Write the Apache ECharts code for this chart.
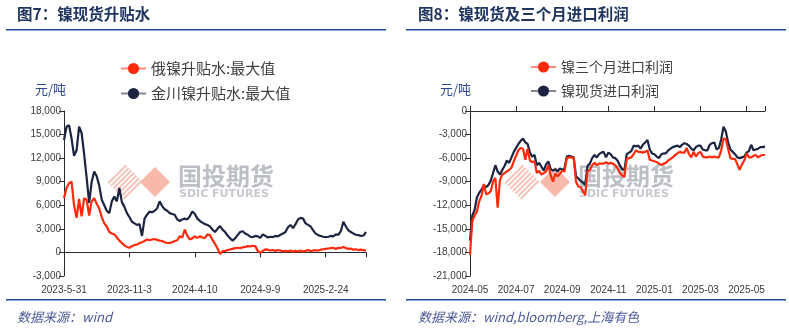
<!DOCTYPE html>
<html>
<head>
<meta charset="utf-8">
<script src="https://cdn.jsdelivr.net/npm/echarts@6/dist/echarts.min.js"></script>
<style>
html,body{margin:0;padding:0;background:#fff;}
#chart{width:789px;height:330px;}
</style>
</head>
<body>
<div id="chart"></div>
<script>
// ---------- data ----------
const leftTickLabels = ['2023-5-31', '2023-11-3', '2024-4-10', '2024-9-9', '2025-2-24'];
const leftStep = 26;
const russiaNiPremium = [
  6900,8200,8800,9000,6000,4400,6800,4600,6900,6700,
  4700,6500,6900,6200,5600,4500,3700,3300,2600,2400,
  2300,1900,1500,1200,900,700,600,800,950,1000,
  1200,1300,1450,1650,1550,1650,1700,1600,1500,1450,
  1300,1200,1200,1300,1450,1550,2050,1900,2900,2100,
  1650,1800,2050,1850,2050,1900,1850,2300,2200,1600,
  1100,500,-200,150,200,300,380,450,550,600,
  550,650,700,800,750,850,800,200,-50,200,
  380,350,250,300,200,300,250,150,200,150,
  250,100,200,150,250,100,200,300,150,250,
  300,250,350,400,450,500,550,600,450,600,
  550,700,550,450,500,350,400,300,350,300,250
];
const jinchuanNiPremium = [
  14300,16000,16200,14500,12300,13000,16000,15200,12500,9500,
  6300,9000,10300,9700,8500,6700,6000,5300,5000,6500,
  7100,6500,8200,6400,5800,5000,4500,3900,3700,3500,
  3600,2100,4300,4800,5200,5100,5300,5600,6500,5900,
  5500,5300,5000,4900,4800,4200,4000,4200,4300,4200,
  4600,5200,4900,4300,4000,3800,3600,3500,3300,2900,
  2600,3000,3350,2900,2600,2150,1800,1500,1800,2200,
  2600,2700,2400,2250,2000,1950,2100,2050,1850,2300,
  2100,1900,2000,1950,2100,2050,2250,2400,2600,3200,
  3500,3100,3600,4200,4400,4300,3700,3500,3300,2800,
  2400,2200,2100,2000,1950,2000,2100,2050,2300,2250,
  2700,3900,3300,2800,2600,2400,2250,2200,2100,2150,2600
];

const rightTickLabels = ['2024-05', '2024-07', '2024-09', '2024-11', '2025-01', '2025-03', '2025-05'];
const rightStep = 20;
const ni3mImportProfit = [
  -18300,-14000,-13300,-12800,-11500,-10800,-9300,-10600,-10500,-10200,
  -9000,-8500,-12300,-8800,-8100,-7900,-7700,-7500,-7200,-6400,
  -5700,-5000,-4700,-4800,-6200,-4800,-6300,-6500,-6400,-7900,
  -7600,-8100,-7900,-7700,-6900,-8200,-9000,-8000,-8300,-8000,
  -7600,-7700,-6000,-5900,-5900,-6000,-9000,-9600,-9700,-10200,
  -10700,-7700,-7500,-6900,-6600,-6900,-6700,-6700,-6700,-6500,
  -6700,-6600,-6700,-6900,-7300,-7900,-8200,-8400,-6100,-6000,
  -5900,-5500,-5000,-5200,-5200,-5300,-5200,-5000,-6200,-6300,
  -6400,-6500,-6700,-6900,-6700,-6600,-6300,-6100,-5900,-5600,
  -5400,-5200,-5300,-5300,-4700,-5500,-5900,-5200,-5800,-5400,
  -5200,-5800,-5900,-5900,-5800,-5900,-5800,-5900,-5900,-5000,
  -3500,-3600,-4800,-6000,-6100,-6100,-6800,-7500,-6800,-6300,
  -5400,-5900,-5900,-5700,-5600,-5900,-5700,-5600,-5600
];
const niSpotImportProfit = [
  -16500,-13300,-12600,-11000,-10400,-10000,-9500,-9700,-9400,-8900,
  -7900,-6900,-7700,-8100,-7500,-7000,-6300,-6600,-5900,-5200,
  -4700,-4200,-3800,-3500,-4000,-4200,-5300,-5800,-5600,-6900,
  -6600,-7100,-7600,-6800,-6400,-7400,-7600,-7400,-7700,-7300,
  -7500,-7300,-5800,-5700,-5800,-5900,-8300,-8600,-8900,-9100,
  -9400,-7000,-6700,-6000,-5600,-5900,-5500,-5300,-5200,-5900,
  -5300,-5500,-5900,-6000,-6300,-6900,-7400,-7500,-5500,-5300,
  -5100,-4400,-4500,-4400,-4800,-4300,-4000,-3700,-4900,-5400,
  -5500,-5800,-6000,-5500,-5400,-5400,-5000,-4800,-4600,-4500,
  -4400,-4600,-4300,-4100,-4200,-4400,-4800,-5000,-4600,-4400,
  -4400,-4900,-5000,-5000,-4300,-4100,-4000,-4900,-4700,-3600,
  -2000,-2600,-4000,-4900,-5200,-5500,-5900,-6000,-5900,-5800,
  -5300,-5100,-4300,-5000,-4900,-4800,-4600,-4600,-4500
];

// ---------- styles ----------
const RED = '#ff2a0c';
const NAVY = '#1c2442';
const AXIS = '#2b2b2b';
const LABEL = '#3a3a3a';
const CJK = '"Noto Sans CJK SC", "Noto Sans", sans-serif';
const NUM = '"Liberation Sans", Arial, sans-serif';

const leftCats = russiaNiPremium.map((_, i) => String(i));
const rightCats = ni3mImportProfit.map((_, i) => String(i));

function labelAxis(gridIndex, cats, step, labels) {
  return {
    type: 'category', gridIndex, data: cats, boundaryGap: false, position: 'bottom',
    axisLine: { show: false, onZero: false },
    axisTick: { show: false },
    axisLabel: {
      interval: (i) => i % step === 0,
      formatter: (v, i) => labels[Math.round(Number(v) / step)] || '',
      color: LABEL, fontFamily: NUM, fontSize: 10, margin: 9, hideOverlap: false
    },
    splitLine: { show: false }
  };
}
function lineAxis(gridIndex, cats, step, position) {
  const last = cats.length - 1;
  return {
    type: 'category', gridIndex, data: cats, boundaryGap: false, position,
    axisLine: { show: true, onZero: true, lineStyle: { color: AXIS, width: 1 } },
    axisTick: { show: true, length: 5, interval: (i) => i % step === 0 || i === last, lineStyle: { color: AXIS } },
    axisLabel: { show: false },
    splitLine: { show: false }
  };
}
function valueAxis(gridIndex, min, max) {
  return {
    type: 'value', gridIndex, min, max, interval: 3000,
    axisLine: { show: true, lineStyle: { color: AXIS, width: 1 } },
    axisTick: { show: true, length: 5, lineStyle: { color: AXIS } },
    axisLabel: { color: LABEL, fontFamily: NUM, fontSize: 10, margin: 3 },
    splitLine: { show: false }
  };
}
function lineSeries(name, data, color, xi, yi, z) {
  return {
    name, type: 'line', data, xAxisIndex: xi, yAxisIndex: yi,
    symbol: 'circle', showSymbol: false, symbolSize: 12, z,
    lineStyle: { color, width: 2.2 }, itemStyle: { color }, emphasis: { disabled: true },
    animation: false
  };
}
function watermark(hx, sx, tx) {
  const els = [];
  const cy = 182, h = 18;
  for (let k = 0; k < 7; k++) {
    const t = (k + 0.5) / 7;
    const x1 = hx - h + t * h, y1 = cy + t * h;
    els.push({ type: 'line', z: 0, silent: true,
      shape: { x1, y1, x2: x1 + h, y2: y1 - h },
      style: { stroke: '#f7c3b8', lineWidth: 2 } });
  }
  const s = 15;
  els.push({ type: 'polygon', z: 0, silent: true,
    shape: { points: [[sx - s, cy], [sx, cy - s], [sx + s, cy], [sx, cy + s]] },
    style: { fill: '#f8b8aa' } });
  els.push({ type: 'text', z: 0, silent: true, left: tx, top: 164,
    style: { text: '国投期货', fill: '#bcbfc6', font: 'bold 24px ' + CJK } });
  els.push({ type: 'text', z: 0, silent: true, left: tx + 1, top: 189,
    style: { text: 'SDIC FUTURES', fill: '#c6c9ce', font: 'bold 11px "DejaVu Sans", sans-serif' } });
  return els;
}

const chart = echarts.init(document.getElementById('chart'), null, { renderer: 'canvas' });
const option = {
  animation: false,
  backgroundColor: '#ffffff',
  grid: [
    { left: 64, top: 111, width: 302, height: 165, containLabel: false },
    { left: 470, top: 111, width: 295, height: 165, containLabel: false }
  ],
  xAxis: [
    labelAxis(0, leftCats, leftStep, leftTickLabels),
    lineAxis(0, leftCats, leftStep, 'bottom'),
    labelAxis(1, rightCats, rightStep, rightTickLabels),
    lineAxis(1, rightCats, rightStep, 'top')
  ],
  yAxis: [ valueAxis(0, -3000, 18000), valueAxis(1, -21000, 0) ],
  legend: [
    { orient: 'vertical', left: 115, top: 56, itemWidth: 25, itemHeight: 14, itemGap: 10,
      data: ['俄镍升贴水:最大值', '金川镍升贴水:最大值'],
      lineStyle: { opacity: 0.55 },
      textStyle: { color: '#404040', fontFamily: CJK, fontSize: 15 } },
    { orient: 'vertical', left: 525, top: 55, itemWidth: 25, itemHeight: 14, itemGap: 10,
      data: ['镍三个月进口利润', '镍现货进口利润'],
      lineStyle: { opacity: 0.55 },
      textStyle: { color: '#404040', fontFamily: CJK, fontSize: 14 } }
  ],
  series: [
    lineSeries('俄镍升贴水:最大值', russiaNiPremium, RED, 0, 0, 3),
    lineSeries('金川镍升贴水:最大值', jinchuanNiPremium, NAVY, 0, 0, 2),
    lineSeries('镍现货进口利润', niSpotImportProfit, NAVY, 2, 1, 2),
    lineSeries('镍三个月进口利润', ni3mImportProfit, RED, 2, 1, 3)
  ],
  graphic: [
    ...watermark(125, 155, 178),
    ...watermark(522, 555, 578),
    { type: 'text', left: 17, top: 6, style: { text: '图7：镍现货升贴水', fill: '#1f3560', font: 'bold 15.5px ' + CJK } },
    { type: 'text', left: 418, top: 6, style: { text: '图8：镍现货及三个月进口利润', fill: '#1f3560', font: 'bold 15.5px ' + CJK } },
    { type: 'rect', shape: { x: 6, y: 29, width: 380, height: 1.5 }, style: { fill: '#1c4c9c' } },
    { type: 'rect', shape: { x: 406, y: 29, width: 380, height: 1.5 }, style: { fill: '#1c4c9c' } },
    { type: 'rect', shape: { x: 6, y: 299, width: 380, height: 1.5 }, style: { fill: '#1c4c9c' } },
    { type: 'rect', shape: { x: 406, y: 299, width: 380, height: 1.5 }, style: { fill: '#1c4c9c' } },
    { type: 'text', left: 35, top: 83, style: { text: '元/吨', fill: '#2c4a96', font: '13px ' + CJK } },
    { type: 'text', left: 440, top: 83, style: { text: '元/吨', fill: '#2c4a96', font: '13px ' + CJK } },
    { type: 'text', left: 17, top: 311, style: { text: '数据来源：wind', fill: '#4a5898', font: 'italic 13px ' + CJK } },
    { type: 'text', left: 418, top: 311, style: { text: '数据来源：wind,bloomberg,上海有色', fill: '#4a5898', font: 'italic 13px ' + CJK } }
  ]
};
chart.setOption(option);
</script>
</body>
</html>
